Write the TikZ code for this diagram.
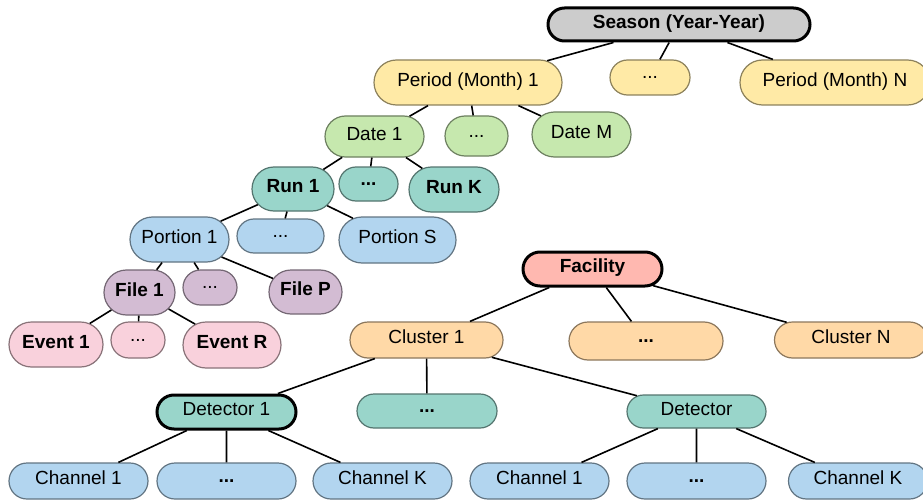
\documentclass[tikz,border=0pt]{standalone}
\usepackage{fontspec}
\setmainfont{Liberation Sans}
\usetikzlibrary{shapes.misc}
\definecolor{cSeason}{HTML}{CCCCCC}
\definecolor{cPeriod}{HTML}{FFEAA6}
\definecolor{cDate}{HTML}{C6E8AE}
\definecolor{cRun}{HTML}{99D5CA}
\definecolor{cPortion}{HTML}{B2D5EF}
\definecolor{cFile}{HTML}{D3BCD3}
\definecolor{cEvent}{HTML}{F9D1DC}
\definecolor{cFac}{HTML}{FFB8B0}
\definecolor{cClus}{HTML}{FFD9A7}
\tikzset{
  nd/.style={rounded rectangle, inner sep=0pt, line width=1.2pt, text=black,
    text depth=6pt, font=\fontsize{19}{22}\selectfont},
  dts/.style={text depth=0pt},
  bf/.style={font=\fontsize{19}{22}\selectfont\bfseries},
  thk/.style={draw=black, line width=3pt},
  sz/.style 2 args={minimum width=#1pt, minimum height=#2pt},
  sea/.style={nd, fill=cSeason, draw=cSeason!55!black},
  per/.style={nd, fill=cPeriod, draw=cPeriod!55!black},
  dat/.style={nd, fill=cDate, draw=cDate!55!black},
  run/.style={nd, fill=cRun, draw=cRun!55!black},
  por/.style={nd, fill=cPortion, draw=cPortion!55!black},
  fil/.style={nd, fill=cFile, draw=cFile!55!black},
  evt/.style={nd, fill=cEvent, draw=cEvent!55!black},
  fac/.style={nd, fill=cFac, draw=cFac!55!black},
  clu/.style={nd, fill=cClus, draw=cClus!55!black},
  link/.style={draw=black, line width=1.6pt}
}
\begin{document}
\begin{tikzpicture}[x=1pt, y=-1pt]
\useasboundingbox (0,0) rectangle (923,500);
% time hierarchy
\node[sea, thk, bf, sz={262}{33}] (season) at (679,24.5) {Season (Year-Year)};
\node[per, sz={188}{45}] (p1) at (468,82.5) {Period (Month) 1};
\node[per, dts, sz={80}{35}] (pd) at (650,77.5) {...};
\node[per, sz={190}{45}] (pn) at (835,82.5) {Period (Month) N};
\node[dat, sz={99}{41}] (d1) at (374.5,136.5) {Date 1};
\node[dat, dts, sz={63}{40}] (dd) at (476.5,136) {...};
\node[dat, sz={99}{45}] (dm) at (581.5,134.5) {Date M};
\node[run, bf, sz={82}{44}] (r1) at (293,189) {Run 1};
\node[run, bf, dts, sz={59}{34}] (rd) at (368.5,184) {...};
\node[run, bf, sz={90}{45}] (rk) at (454,189.5) {Run K};
\node[por, sz={99}{45}] (o1) at (179.5,239.5) {Portion 1};
\node[por, dts, sz={87}{34}] (od) at (280.5,236) {...};
\node[por, sz={117}{46}] (os) at (397.5,240) {Portion S};
\node[fil, bf, sz={71}{45}] (f1) at (139.5,292.5) {File 1};
\node[fil, dts, sz={54}{35}] (fd) at (210,287.5) {...};
\node[fil, bf, sz={73}{44}] (fp) at (305.5,292) {File P};
\node[evt, bf, sz={94}{45}] (e1) at (56,344.5) {Event 1};
\node[evt, dts, sz={54}{36}] (ed) at (138,340) {...};
\node[evt, bf, sz={98}{46}] (er) at (232,345) {Event R};
% facility hierarchy
\node[fac, thk, bf, sz={139}{34}] (fac) at (592.5,269) {Facility};
\node[clu, sz={153}{36}] (c1) at (426.5,340) {Cluster 1};
\node[clu, bf, dts, sz={154}{38}] (cd) at (646,341) {...};
\node[clu, sz={153}{36}] (cn) at (851,340) {Cluster N};
\node[run, thk, sz={139}{34}] (det1) at (226.5,412) {Detector 1};
\node[run, bf, dts, sz={140}{34}] (detd) at (427,411) {...};
\node[run, sz={139}{33}] (det) at (696.5,411.5) {Detector};
\node[por, sz={139}{36}] (ch1a) at (78.5,481) {Channel 1};
\node[por, bf, dts, sz={139}{36}] (chda) at (226.5,481) {...};
\node[por, sz={139}{36}] (chka) at (382.5,481) {Channel K};
\node[por, sz={139}{36}] (ch1b) at (539.5,481) {Channel 1};
\node[por, bf, dts, sz={139}{36}] (chdb) at (696.5,481) {...};
\node[por, sz={139}{36}] (chkb) at (858,481) {Channel K};
% connectors
\draw[link] (season) -- (p1);
\draw[link] (season) -- (pd);
\draw[link] (season) -- (pn);
\draw[link] (p1) -- (d1);
\draw[link] (p1) -- (dd);
\draw[link] (p1) -- (dm);
\draw[link] (d1) -- (r1);
\draw[link] (d1) -- (rd);
\draw[link] (d1) -- (rk);
\draw[link] (r1) -- (o1);
\draw[link] (r1) -- (od);
\draw[link] (r1) -- (os);
\draw[link] (o1) -- (f1);
\draw[link] (o1) -- (fd);
\draw[link] (o1) -- (fp);
\draw[link] (f1) -- (e1);
\draw[link] (f1) -- (ed);
\draw[link] (f1) -- (er);
\draw[link] (fac) -- (c1);
\draw[link] (fac) -- (cd);
\draw[link] (fac) -- (cn);
\draw[link] (c1) -- (det1);
\draw[link] (c1) -- (detd);
\draw[link] (c1) -- (det);
\draw[link] (det1) -- (ch1a);
\draw[link] (det1) -- (chda);
\draw[link] (det1) -- (chka);
\draw[link] (det) -- (ch1b);
\draw[link] (det) -- (chdb);
\draw[link] (det) -- (chkb);
\end{tikzpicture}
\end{document}
